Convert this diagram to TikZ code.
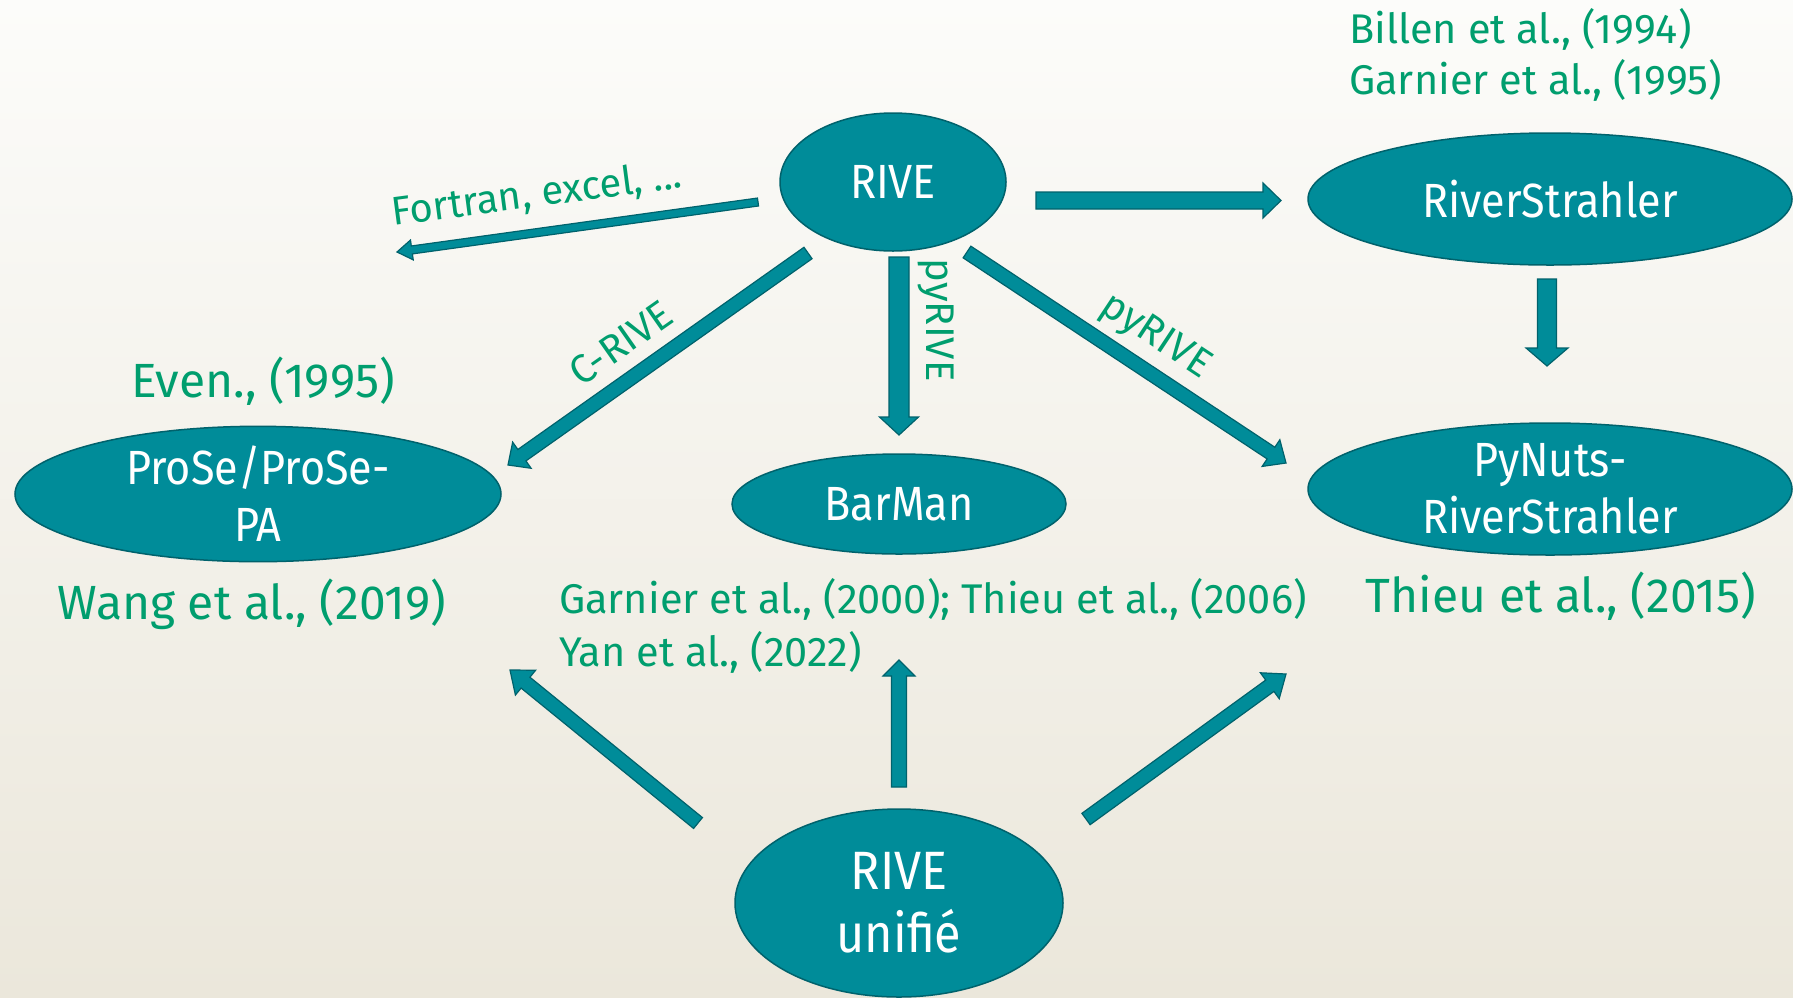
\documentclass[tikz,border=0pt]{standalone}
\usepackage{fontspec}
\setmainfont{Fira Sans}
\newfontfamily\nodefont[FakeStretch=0.9]{Fira Sans}
\newfontfamily\reffont{Fira Sans}
\usetikzlibrary{shapes.geometric,calc}
\definecolor{teal1}{RGB}{0,140,153}
\definecolor{teal2}{RGB}{0,98,108}
\definecolor{grn}{RGB}{0,158,110}
\definecolor{bgtop}{RGB}{252,252,250}
\definecolor{bgbot}{RGB}{235,231,219}
\tikzset{
  ell/.style={ellipse, draw=teal2, line width=1.5pt, fill=teal1, inner sep=0pt,
    text=white, align=center, font=\nodefont\fontsize{48}{57}\selectfont},
  arr/.style={draw=teal2, line width=1.2pt, fill=teal1, line join=miter},
  ref/.style={text=grn, inner sep=0pt, font=\reffont\fontsize{41.5}{50}\selectfont},
  reflg/.style={ref, font=\reffont\fontsize{48}{56}\selectfont},
  lab/.style={text=grn, inner sep=0pt, font=\reffont\fontsize{40}{46}\selectfont}
}
\newcommand\barrow[5]{%
  \coordinate (hb) at ($(#2)!#5!(#1)$);
  \draw[arr] ($(#1)!#3!90:(#2)$) -- ($(hb)!#3!90:(#2)$) -- ($(hb)!#4!90:(#2)$)
    -- (#2) -- ($(hb)!#4!-90:(#2)$) -- ($(hb)!#3!-90:(#2)$)
    -- ($(#1)!#3!-90:(#2)$) -- cycle;}
\begin{document}
\begin{tikzpicture}[x=1pt,y=-1pt]
\useasboundingbox (0,0) rectangle (1793,997);
\clip (0,0) rectangle (1793,997);
\shade[top color=bgtop, bottom color=bgbot] (0,0) rectangle (1793,997);

% nodes
\node[ell, minimum width=226pt, minimum height=138pt] (rive) at (893,182) {RIVE};
\node[ell, minimum width=484pt, minimum height=132pt] (rs) at (1550,199) {RiverStrahler};
\node[ell, minimum width=486pt, minimum height=134pt] (prose) at (258,494) {ProSe/ProSe-\\PA};
\node[ell, minimum width=334pt, minimum height=100pt] (barman) at (899,504) {BarMan};
\node[ell, minimum width=484pt, minimum height=132pt] (pynuts) at (1550,489) {PyNuts-\\RiverStrahler};
\node[ell, minimum width=328pt, minimum height=188pt, font=\nodefont\fontsize{54}{63}\selectfont] (unif) at (899,903) {RIVE\\unifié};

% arrow end points
\coordinate (fA) at (758,202);  \coordinate (fB) at (397,252);
\coordinate (rsA) at (1036,200.5); \coordinate (rsB) at (1281,200.5);
\coordinate (dnA) at (1547,279); \coordinate (dnB) at (1547,366);
\coordinate (cA) at (808,253); \coordinate (cB) at (508,465);
\coordinate (vA) at (899,257); \coordinate (vB) at (899,435);
\coordinate (dA) at (967,252); \coordinate (dB) at (1286,463);
\coordinate (ulA) at (698,823); \coordinate (ulB) at (510,670);
\coordinate (umA) at (899,787); \coordinate (umB) at (899,660);
\coordinate (urA) at (1086,819); \coordinate (urB) at (1286,674);

\barrow{fA}{fB}{4pt}{10pt}{15pt}
\barrow{rsA}{rsB}{8.5pt}{17.5pt}{18pt}
\barrow{dnA}{dnB}{9.5pt}{21pt}{18pt}
\barrow{cA}{cB}{7pt}{16pt}{17pt}
\barrow{vA}{vB}{10pt}{19.5pt}{18pt}
\barrow{dA}{dB}{7pt}{16pt}{18pt}
\barrow{ulA}{ulB}{7pt}{16pt}{20pt}
\barrow{umA}{umB}{7.5pt}{16pt}{16pt}
\barrow{urA}{urB}{7pt}{16pt}{20pt}

% labels on arrows
\node[lab, rotate=7.5] (lfort) at (537,195) {Fortran, excel, ...};
\node[lab, rotate=35] (lcrive) at (621,343) {C-RIVE};
\node[lab, rotate=-90] (lpyv) at (936,320) {pyRIVE};
\node[lab, rotate=-33.5] (lpyd) at (1155,337) {pyRIVE};

% references
\node[ref, anchor=west] (billen) at (1349,29) {Billen et al., (1994)};
\node[ref, anchor=west] (garn95) at (1349,80) {Garnier et al., (1995)};
\node[reflg] (even) at (263,381) {Even., (1995)};
\node[reflg] (wang) at (252,604) {Wang et al., (2019)};
\node[ref, anchor=west] (garn00) at (559,599) {Garnier et al., (2000); Thieu et al., (2006)};
\node[ref, anchor=west] (yan) at (559,652) {Yan et al., (2022)};
\node[reflg] (thieu) at (1561,596) {Thieu et al., (2015)};
\end{tikzpicture}
\end{document}
